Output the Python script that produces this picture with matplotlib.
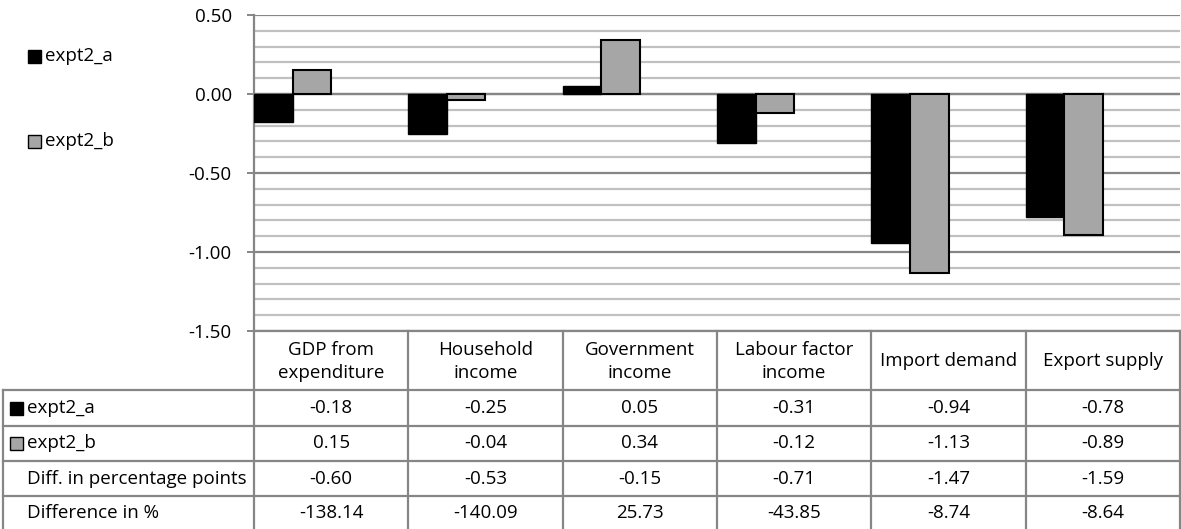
import matplotlib.pyplot as plt
import matplotlib as mpl
import numpy as np
from matplotlib.patches import Rectangle
from matplotlib.lines import Line2D

mpl.rcParams['font.family'] = ['Open Sans', 'DejaVu Sans']

categories = ["GDP from\nexpenditure", "Household\nincome", "Government\nincome",
              "Labour factor\nincome", "Import demand", "Export supply"]
expt2_a = [-0.18, -0.25, 0.05, -0.31, -0.94, -0.78]
expt2_b = [0.15, -0.04, 0.34, -0.12, -1.13, -0.89]
diff_pp = [-0.60, -0.53, -0.15, -0.71, -1.47, -1.59]
diff_pct = [-138.14, -140.09, 25.73, -43.85, -8.74, -8.64]
row_labels = ["expt2_a", "expt2_b", "Diff. in percentage points", "Difference in %"]

W, H = 1181, 529
FS = 13.5
fig = plt.figure(figsize=(W / 100, H / 100), dpi=100)

def fx(x):
    return x / W

def fy(y):
    return 1 - y / H

# chart area in pixels
L, R, T, B = 254, 1180, 15, 331
ax = fig.add_axes([fx(L), fy(B), fx(R - L), (B - T) / H])
ax.set_xlim(0, len(categories))
ax.set_ylim(-1.5, 0.5)

minor_c = "#c0c0c0"
major_c = "#868686"
for v in np.arange(-1.5, 0.51, 0.1):
    is_major = abs(round(v * 10) % 5) == 0
    ax.axhline(v, color=major_c if is_major else minor_c, lw=1.6, zorder=0)

x = np.arange(len(categories))
bw = 0.25
ax.bar(x, expt2_a, width=bw, align="edge", color="black", edgecolor="black", lw=1, zorder=3)
ax.bar(x + bw, expt2_b, width=bw, align="edge", color="#a6a6a6", edgecolor="black", lw=1.5, zorder=3)
ax.axhline(0, color=major_c, lw=1.6, zorder=2)

for s in ["top", "right", "bottom"]:
    ax.spines[s].set_visible(False)
ax.spines["left"].set_color(major_c)
ax.spines["left"].set_linewidth(1.6)
ax.set_xticks([])
ax.set_yticks([-1.5, -1.0, -0.5, 0.0, 0.5])
ax.set_yticklabels(["%.2f" % t for t in [-1.5, -1.0, -0.5, 0.0, 0.5]], fontsize=FS)
ax.tick_params(axis="y", length=5, width=1.4, color=major_c, pad=11)

# legend on the left
for i, (lab, col) in enumerate([("expt2_a", "black"), ("expt2_b", "#a6a6a6")]):
    yy = 56 + i * 85
    fig.patches.append(Rectangle((fx(28), fy(yy + 7)), fx(13), 13 / H, transform=fig.transFigure,
                                 facecolor=col, edgecolor="black", lw=1))
    fig.text(fx(45), fy(yy), lab, fontsize=FS, va="center", ha="left")

# data table under the chart
col_w = (R - L) / len(categories)
rows_y = [331, 390, 426, 461, 496, 532]
line_kw = dict(color=major_c, lw=1.6, transform=fig.transFigure)

for y in rows_y[1:]:
    fig.lines.append(Line2D([fx(3), fx(R)], [fy(y), fy(y)], **line_kw))
fig.lines.append(Line2D([fx(3), fx(3)], [fy(rows_y[1]), fy(rows_y[-1])], **line_kw))
for i in range(len(categories) + 1):
    xx = L + i * col_w
    fig.lines.append(Line2D([fx(xx), fx(xx)], [fy(B), fy(rows_y[-1])], **line_kw))
fig.lines.append(Line2D([fx(L), fx(R)], [fy(B), fy(B)], **line_kw))

for i, c in enumerate(categories):
    fig.text(fx(L + (i + 0.5) * col_w), fy((rows_y[0] + rows_y[1]) / 2 + 1), c,
             ha="center", va="center", fontsize=FS, linespacing=1.3)

table_rows = [expt2_a, expt2_b, diff_pp, diff_pct]
for r, (lab, vals) in enumerate(zip(row_labels, table_rows)):
    yc = (rows_y[r + 1] + min(rows_y[r + 2], H)) / 2
    if r < 2:
        col = "black" if r == 0 else "#a6a6a6"
        fig.patches.append(Rectangle((fx(10), fy(yc + 6.5)), fx(13), 13 / H, transform=fig.transFigure,
                                     facecolor=col, edgecolor="black", lw=1))
    fig.text(fx(27), fy(yc), lab, fontsize=FS, va="center", ha="left")
    for i, v in enumerate(vals):
        fig.text(fx(L + (i + 0.5) * col_w), fy(yc), "%.2f" % v, ha="center", va="center", fontsize=FS)

fig.savefig("out.png", dpi=100)
